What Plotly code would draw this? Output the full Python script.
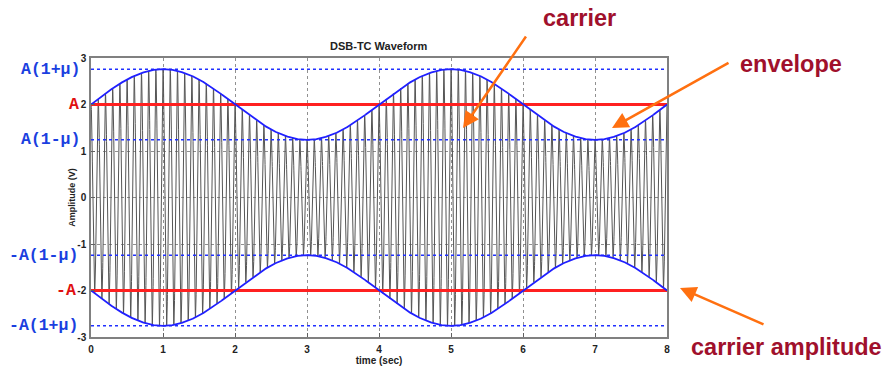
import numpy as np
import plotly.graph_objects as go

# Parameters
A = 2.0          # carrier amplitude
mu = 0.38        # modulation index
fm = 0.25        # message frequency (Hz) -> period 4 s
fc = 10.0        # carrier frequency (Hz)
t_end = 8.0

x_ticks = [0, 1, 2, 3, 4, 5, 6, 7, 8]
y_ticks = [-3, -2, -1, 0, 1, 2, 3]

left_labels = ["A(1+\u03bc)", "A", "A(1-\u03bc)", "-A(1-\u03bc)", "-A", "-A(1+\u03bc)"]
left_values = [A*(1+mu), A, A*(1-mu), -A*(1-mu), -A, -A*(1+mu)]
left_colors = ["#1a3fe0", "#e01010", "#1a3fe0", "#1a3fe0", "#e01010", "#1a3fe0"]
left_shift = [-9, -10, -9, -11, -13, -11]

t = np.linspace(0, t_end, 6001)
env = A*(1 + mu*np.sin(2*np.pi*fm*t))
sig = env*np.cos(2*np.pi*fc*t)

fig = go.Figure()
fig.add_trace(go.Scatter(x=t, y=sig, mode="lines", line=dict(color="#555555", width=1), hoverinfo="skip"))
for v in [A*(1+mu), A*(1-mu), -A*(1-mu), -A*(1+mu)]:
    fig.add_trace(go.Scatter(x=[0, t_end], y=[v, v], mode="lines",
                             line=dict(color="#2030ff", width=1.5, dash="dot")))
for v in [A, -A]:
    fig.add_trace(go.Scatter(x=[0, t_end], y=[v, v], mode="lines",
                             line=dict(color="#ff2020", width=3)))
fig.add_trace(go.Scatter(x=t, y=env, mode="lines", line=dict(color="#2020ff", width=1.8)))
fig.add_trace(go.Scatter(x=t, y=-env, mode="lines", line=dict(color="#2020ff", width=1.8)))

axis_common = dict(showline=True, linecolor="#808080", linewidth=1.5, mirror=True,
                   showgrid=True, gridcolor="#909090", griddash="dot", gridwidth=1,
                   ticks="inside", ticklen=4, tickcolor="#606060", zeroline=False,
                   automargin=False,
                   tickfont=dict(family="Arial", size=10, color="#222"))
fig.update_xaxes(range=[0, t_end], tickvals=x_ticks, ticktext=[f"<b>{v}</b>" for v in x_ticks],
                 ticklabelstandoff=2,
                 title=dict(text="<b>time (sec)</b>", font=dict(family="Arial", size=10, color="#222"), standoff=2),
                 **axis_common)
fig.update_yaxes(range=[-3, 3], tickvals=y_ticks, ticktext=[f"<b>{v}</b>" for v in y_ticks],
                 ticklabelstandoff=1,
                 title=dict(text="<b>Amplitude (V)</b>", font=dict(family="Arial", size=9, color="#222"), standoff=0),
                 **axis_common)

annotations = []
for lab, v, c, s in zip(left_labels, left_values, left_colors, left_shift):
    annotations.append(dict(text=f"<b>{lab}</b>", x=0, xref="paper", y=v, yref="y",
                            xanchor="right", yanchor="middle", xshift=s, showarrow=False,
                            font=dict(family="Liberation Mono", size=16.5, color=c)))
annotations.append(dict(text="<b>DSB-TC Waveform</b>", x=0.5, xref="paper", y=1.0, yref="paper",
                        yanchor="bottom", yshift=4, showarrow=False,
                        font=dict(family="Arial", size=11, color="#222")))
red = "#a0102c"
orange = "#ff7010"
def px_to_paper(px, py):
    return (px-91)/576, (337-py)/279
for text, (tx, ty) in [("carrier", (579, 18)), ("envelope", (791, 64)), ("carrier amplitude", (786, 347))]:
    xp, yp = px_to_paper(tx, ty)
    annotations.append(dict(text=f"<b>{text}</b>", x=xp, y=yp, xref="paper", yref="paper",
                            xanchor="center", yanchor="middle", showarrow=False,
                            font=dict(family="Arial", size=23.5, color=red)))
for (hx, hy), (sx, sy) in [((463, 128), (527, 35)), ((612, 128), (730, 62)), ((680, 288), (765, 325))]:
    xp, yp = px_to_paper(hx, hy)
    annotations.append(dict(text="", x=xp, y=yp, xref="paper", yref="paper",
                            ax=sx-hx, ay=sy-hy, axref="pixel", ayref="pixel",
                            showarrow=True, arrowhead=2, arrowsize=1.3, arrowwidth=2.5,
                            arrowcolor=orange))

fig.update_layout(width=886, height=368, margin=dict(l=91, r=219, t=58, b=31),
                  plot_bgcolor="white", paper_bgcolor="white", showlegend=False,
                  annotations=annotations)
fig.write_html("out.html", config={"displayModeBar": False},
               post_script="document.body.style.margin='0';document.body.style.overflow='hidden';")
